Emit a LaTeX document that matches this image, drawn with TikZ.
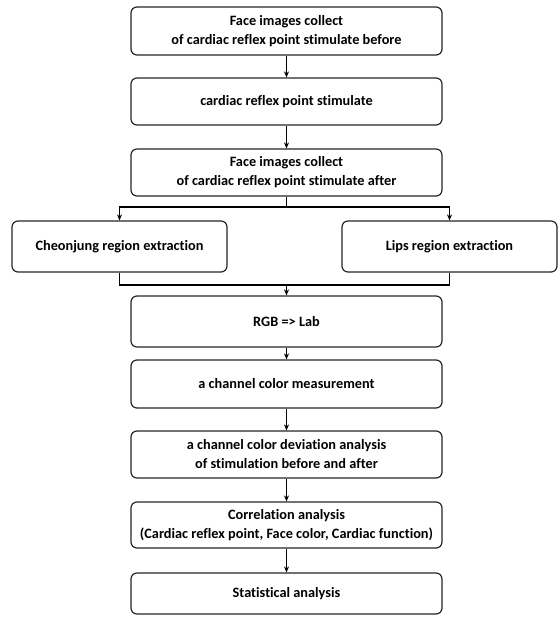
\documentclass[tikz,border=0pt]{standalone}
\usepackage{fontspec}
\setmainfont{Carlito}[Ligatures={NoCommon}]
\usetikzlibrary{arrows.meta}
\begin{document}
\begin{tikzpicture}[x=1pt,y=-1pt,
  box/.style={draw=black!85,line width=1.2pt,rounded corners=6pt,fill=white,
    align=center,font=\bfseries\fontsize{14.3}{19}\selectfont,inner sep=0pt},
  arr/.style={line width=1.3pt,-{Stealth[length=6pt,width=5pt]}},
  ln/.style={line width=1.3pt}]
\useasboundingbox (0,0) rectangle (558,617);
\node[box,minimum width=311pt,minimum height=48pt] (b1) at (286.5,31) {Face images collect\\of cardiac reflex point stimulate before};
\node[box,minimum width=311pt,minimum height=47pt] (b2) at (286.5,101.5) {cardiac reflex point stimulate};
\node[box,minimum width=311pt,minimum height=47pt] (b3) at (286.5,172.5) {Face images collect\\of cardiac reflex point stimulate after};
\node[box,minimum width=215pt,minimum height=51pt] (l) at (119.5,246.5) {Cheonjung region extraction};
\node[box,minimum width=215pt,minimum height=51pt] (r) at (449.5,246.5) {Lips region extraction};
\node[box,minimum width=311pt,minimum height=51pt] (b4) at (286.5,321.5) {RGB => Lab};
\node[box,minimum width=311pt,minimum height=48pt] (b5) at (286.5,384) {a channel color measurement};
\node[box,minimum width=311pt,minimum height=47pt] (b6) at (286.5,454.5) {a channel color deviation analysis\\of stimulation before and after};
\node[box,minimum width=311pt,minimum height=46pt] (b7) at (286.5,525) {Correlation analysis\\(Cardiac reflex point, Face color, Cardiac function)};
\node[box,minimum width=311pt,minimum height=41pt] (b8) at (286.5,593.5) {Statistical analysis};
\coordinate (s) at (286.5,207);
\coordinate (j) at (286.5,285);
\draw[arr] (b1) -- (b2);
\draw[arr] (b2) -- (b3);
\draw[ln] (b3.south) -- (s);
\draw[arr] (s) -| (l.north);
\draw[arr] (s) -| (r.north);
\draw[ln] (l.south) |- (j);
\draw[ln] (r.south) |- (j);
\draw[arr] (j) -- (b4.north);
\draw[arr] (b4) -- (b5);
\draw[arr] (b5) -- (b6);
\draw[arr] (b6) -- (b7);
\draw[arr] (b7) -- (b8);
\end{tikzpicture}
\end{document}
